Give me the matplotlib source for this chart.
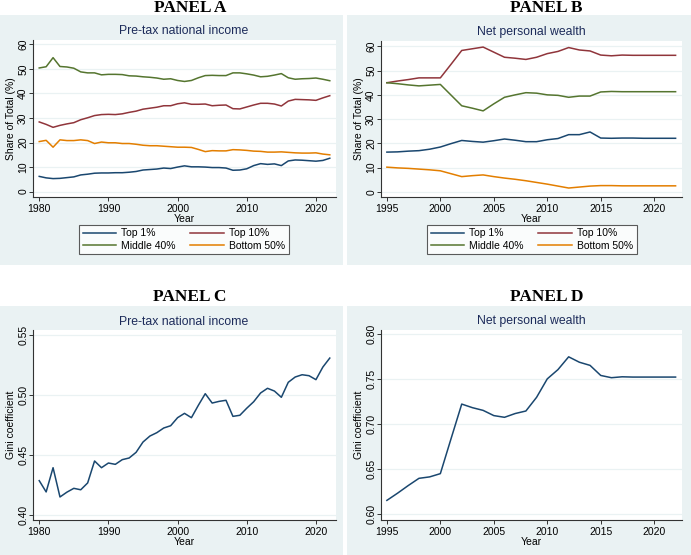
import matplotlib.pyplot as plt
from matplotlib.patches import Rectangle
import numpy as np

plt.rcParams['font.family'] = ['Liberation Sans', 'DejaVu Sans']

# Panel A: pre-tax national income shares, 1980-2022
years_a = list(range(1980, 2023))
top1_a = [6.2, 5.6, 5.3, 5.4, 5.7, 6.0, 6.8, 7.1, 7.5, 7.6, 7.6, 7.7, 7.7, 7.9, 8.2,
          8.8, 9.0, 9.2, 9.6, 9.4, 10.0, 10.5, 10.1, 10.1, 10.0, 9.8, 9.8, 9.6, 8.7,
          8.8, 9.3, 10.6, 11.4, 11.1, 11.3, 10.6, 12.5, 12.9, 12.8, 12.6, 12.4, 12.7, 13.6]
top10_a = [28.4, 27.4, 26.2, 27.0, 27.6, 28.1, 29.3, 30.1, 31.0, 31.4, 31.5, 31.4, 31.7,
           32.3, 32.8, 33.6, 34.0, 34.4, 35.0, 35.0, 35.8, 36.2, 35.6, 35.6, 35.7, 35.0,
           35.2, 35.3, 33.8, 33.7, 34.5, 35.3, 36.0, 36.0, 35.7, 34.9, 36.9, 37.6, 37.5,
           37.4, 37.2, 38.2, 39.1]
mid40_a = [50.4, 50.9, 54.6, 51.0, 50.8, 50.3, 48.8, 48.4, 48.4, 47.6, 47.8, 47.8, 47.7,
           47.2, 47.1, 46.8, 46.6, 46.3, 45.8, 46.0, 45.3, 44.9, 45.3, 46.4, 47.3, 47.4,
           47.3, 47.3, 48.4, 48.4, 48.0, 47.5, 46.8, 47.0, 47.5, 48.1, 46.4, 45.8, 46.0,
           46.1, 46.3, 45.8, 45.2]
bot50_a = [20.4, 20.9, 18.1, 21.1, 20.8, 20.8, 21.1, 20.8, 19.6, 20.2, 19.9, 19.9, 19.6,
           19.6, 19.3, 18.9, 18.7, 18.7, 18.5, 18.3, 18.1, 18.1, 18.0, 17.2, 16.3, 16.7,
           16.6, 16.6, 17.1, 17.0, 16.8, 16.5, 16.4, 16.1, 16.1, 16.2, 16.0, 15.8, 15.7,
           15.7, 15.8, 15.3, 15.0]

# Panel B: net personal wealth shares, 1995-2022
years_b = list(range(1995, 2023))
top1_b = [16.4, 16.5, 16.8, 17.0, 17.6, 18.5, 19.9, 21.2, 20.8, 20.5, 21.1, 21.8, 21.3,
          20.7, 20.7, 21.5, 22.0, 23.6, 23.6, 24.7, 22.2, 22.1, 22.2, 22.2, 22.1, 22.1,
          22.1, 22.1]
top10_b = [45.0, 45.7, 46.3, 47.0, 47.0, 47.0, 52.6, 58.3, 59.0, 59.7, 57.6, 55.5, 55.1,
           54.6, 55.5, 57.0, 57.9, 59.5, 58.5, 58.1, 56.4, 56.1, 56.4, 56.3, 56.3, 56.3,
           56.3, 56.3]
mid40_b = [45.0, 44.6, 44.1, 43.7, 44.0, 44.3, 39.9, 35.5, 34.5, 33.4, 36.3, 39.0, 40.0,
           40.9, 40.7, 40.0, 39.8, 39.0, 39.5, 39.5, 41.2, 41.4, 41.3, 41.3, 41.3, 41.3,
           41.3, 41.3]
bot50_b = [10.2, 9.9, 9.7, 9.4, 9.1, 8.7, 7.5, 6.3, 6.7, 7.0, 6.3, 5.7, 5.2, 4.6, 3.9,
           3.2, 2.4, 1.6, 2.0, 2.4, 2.6, 2.6, 2.5, 2.5, 2.5, 2.5, 2.5, 2.5]

# Panel C: Gini, pre-tax national income
gini_c = [0.4286, 0.4192, 0.4394, 0.4150, 0.4190, 0.4222, 0.4210, 0.4267, 0.4450, 0.4394,
          0.4433, 0.4422, 0.4461, 0.4475, 0.4522, 0.4608, 0.4658, 0.4686, 0.4725, 0.4744,
          0.4811, 0.4847, 0.4811, 0.4914, 0.5011, 0.4933, 0.4947, 0.4956, 0.4822, 0.4831,
          0.4890, 0.4944, 0.5017, 0.5056, 0.5033, 0.4981, 0.5106, 0.5150, 0.5169, 0.5161,
          0.5128, 0.5233, 0.5308]

# Panel D: Gini, net personal wealth
gini_d = [0.6155, 0.6235, 0.6320, 0.6400, 0.6416, 0.6452, 0.6840, 0.7225, 0.7185, 0.7155,
          0.7097, 0.7078, 0.7120, 0.7148, 0.7300, 0.7505, 0.7608, 0.7750, 0.7690, 0.7655,
          0.7543, 0.7518, 0.7528, 0.7525, 0.7525, 0.7525, 0.7525, 0.7525]

labels = ['Top 1%', 'Top 10%', 'Middle 40%', 'Bottom 50%']
colors = ['#1a476f', '#90353b', '#55752f', '#e37e00']
bg = '#eaf2f3'
title_col = '#1c2b5a'

W, H = 691, 555
fig = plt.figure(figsize=(W / 100, H / 100), dpi=100)
fig.patch.set_facecolor('white')


def px_rect(x0, y0, x1, y1):
    # pixel box (top-left origin) -> figure fraction [left, bottom, width, height]
    return [x0 / W, 1 - y1 / H, (x1 - x0) / W, (y1 - y0) / H]


def add_bg(x0, y0, x1, y1):
    l, b, w, h = px_rect(x0, y0, x1, y1)
    fig.patches.append(Rectangle((l, b), w, h, transform=fig.transFigure,
                                 facecolor=bg, edgecolor='none', zorder=-5))


def style_axes(ax, yticks, ylabel, fmt):
    ax.set_facecolor('white')
    for s in ['top', 'right']:
        ax.spines[s].set_visible(False)
    for s in ['left', 'bottom']:
        ax.spines[s].set_color('#333333')
        ax.spines[s].set_linewidth(0.8)
    ax.set_yticks(yticks)
    ax.set_yticklabels([fmt.format(v) for v in yticks], rotation=90, va='center')
    ax.tick_params(axis='both', labelsize=7.5, length=3, width=0.7, color='#333333',
                   pad=2)
    ax.tick_params(axis='y', pad=0.5)
    ax.grid(axis='y', color=bg, linewidth=0.9)
    ax.set_axisbelow(True)
    ax.set_xlabel('Year', fontsize=7.5, labelpad=0)
    ax.set_ylabel(ylabel, fontsize=7.5, labelpad=1.5)


# backgrounds
add_bg(0, 15, 343, 265)
add_bg(347, 15, 691, 265)
add_bg(0, 306, 343, 555)
add_bg(347, 306, 691, 555)

# Panel A
axA = fig.add_axes(px_rect(33, 40, 336, 197))
for vals, lab, c in zip([top1_a, top10_a, mid40_a, bot50_a], labels, colors):
    axA.plot(years_a, vals, color=c, linewidth=1.1, label=lab)
axA.set_xlim(1979.1, 2022.9)
axA.set_ylim(-2.2, 61.8)
axA.set_xticks([1980, 1990, 2000, 2010, 2020])
style_axes(axA, [0, 10, 20, 30, 40, 50, 60], 'Share of Total (%)', '{:d}')

# Panel B
axB = fig.add_axes(px_rect(381, 41, 682, 197))
for vals, lab, c in zip([top1_b, top10_b, mid40_b, bot50_b], labels, colors):
    axB.plot(years_b, vals, color=c, linewidth=1.1, label=lab)
axB.set_xlim(1994.45, 2022.6)
axB.set_ylim(-2.1, 62.2)
axB.set_xticks([1995, 2000, 2005, 2010, 2015, 2020])
style_axes(axB, [0, 10, 20, 30, 40, 50, 60], 'Share of Total (%)', '{:d}')

# Panel C
axC = fig.add_axes(px_rect(33, 330, 336, 520))
axC.plot(years_a, gini_c, color=colors[0], linewidth=1.1)
axC.set_xlim(1979.1, 2022.9)
axC.set_ylim(0.3958, 0.5542)
axC.set_xticks([1980, 1990, 2000, 2010, 2020])
style_axes(axC, [0.40, 0.45, 0.50, 0.55], 'Gini coefficient', '{:.2f}')

# Panel D
axD = fig.add_axes(px_rect(381, 330, 682, 520))
axD.plot(years_b, gini_d, color=colors[0], linewidth=1.1)
axD.set_xlim(1994.45, 2022.6)
axD.set_ylim(0.5937, 0.8048)
axD.set_xticks([1995, 2000, 2005, 2010, 2015, 2020])
style_axes(axD, [0.60, 0.65, 0.70, 0.75, 0.80], 'Gini coefficient', '{:.2f}')

# legends (row-wise order like Stata)
for ax, (x0, x1) in [(axA, (88, 280)), (axB, (436, 628))]:
    handles, labs = ax.get_legend_handles_labels()
    order = [0, 2, 1, 3]
    l, b, w, h = px_rect(x0, 226, x1, 253)
    leg = fig.legend([handles[i] for i in order], [labs[i] for i in order], ncol=2,
                     loc='center', fontsize=7.5,
                     bbox_to_anchor=(l + w / 2, b + h / 2), bbox_transform=fig.transFigure,
                     frameon=True, fancybox=False, handlelength=3.2, columnspacing=1.4,
                     handletextpad=0.5, labelspacing=0.25, borderpad=0.35)
    leg.get_frame().set_edgecolor('#333333')
    leg.get_frame().set_linewidth(0.8)

# subtitles
fig.text(184 / W, 1 - 31 / H, 'Pre-tax national income', ha='center', va='center',
         fontsize=8.8, color=title_col)
fig.text(531 / W, 1 - 32 / H, 'Net personal wealth', ha='center', va='center',
         fontsize=8.8, color=title_col)
fig.text(184 / W, 1 - 322 / H, 'Pre-tax national income', ha='center', va='center',
         fontsize=8.8, color=title_col)
fig.text(531 / W, 1 - 321 / H, 'Net personal wealth', ha='center', va='center',
         fontsize=8.8, color=title_col)

# panel headings
for x, y, t in [(190, 8, 'PANEL A'), (546, 8, 'PANEL B'),
                (190, 297, 'PANEL C'), (547, 297, 'PANEL D')]:
    fig.text(x / W, 1 - y / H, t, ha='center', va='center', fontsize=12.5,
             fontweight='bold', family=['Liberation Serif', 'DejaVu Serif'])

fig.savefig('out.png', dpi=100)
